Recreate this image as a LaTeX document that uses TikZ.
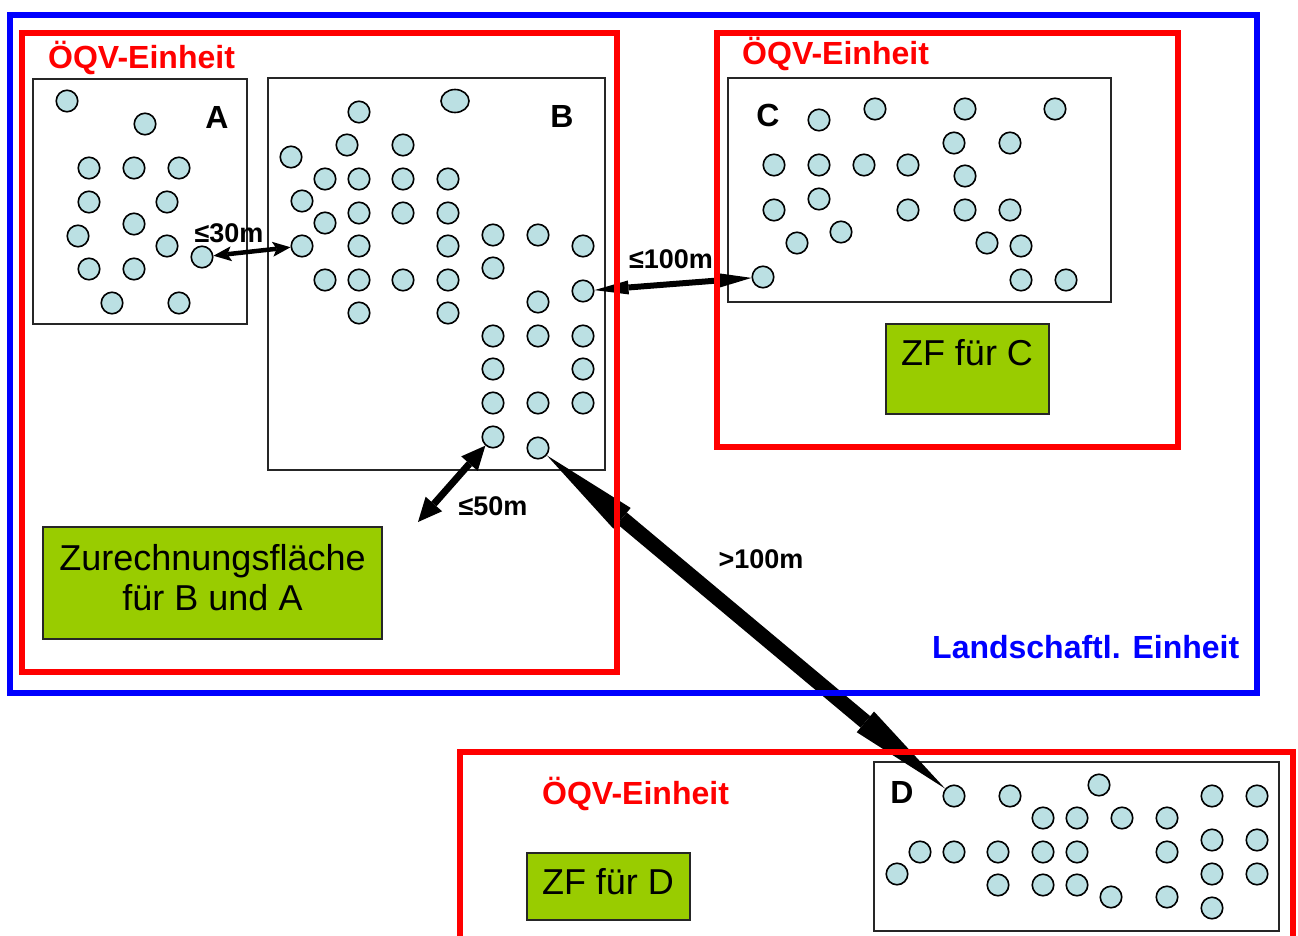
\documentclass[tikz,border=0pt]{standalone}
\usepackage{fontspec}
\setmainfont{Liberation Sans}
\usetikzlibrary{arrows.meta,shapes.geometric}
\definecolor{dotfill}{HTML}{BBE0E3}
\definecolor{zfgreen}{HTML}{99CC00}
\definecolor{ured}{RGB}{255,0,0}
\definecolor{ublue}{RGB}{0,0,255}
\tikzset{
  dot/.style={circle,draw=black,line width=1.6pt,fill=dotfill,minimum size=21.5pt,inner sep=0pt},
  blackbox/.style={draw=black!85,line width=1.6pt},
  redbox/.style={draw=ured,line width=6pt},
  bluebox/.style={draw=ublue,line width=6pt},
  greenbox/.style={draw=black!85,line width=1.6pt,fill=zfgreen,inner sep=0pt},
  unitlbl/.style={text=ured,font=\bfseries\fontsize{32}{38}\selectfont,inner sep=0pt,anchor=base west},
  letter/.style={font=\bfseries\fontsize{32}{38}\selectfont,inner sep=0pt,anchor=base},
  distlbl/.style={font=\bfseries\fontsize{27}{32}\selectfont,inner sep=0pt,anchor=base},
  zftext/.style={font=\fontsize{36}{40}\selectfont,inner sep=0pt},
  arrA/.style={line width=4.5pt,{Stealth[length=18pt,width=15pt,inset=4pt,line width=0pt]}-{Stealth[length=18pt,width=15pt,inset=4pt,line width=0pt]}},
  arrC/.style={line width=6pt,{Triangle[length=34pt,width=14pt,line width=0pt]}-{Triangle[length=34pt,width=15pt,line width=0pt]}},
  arrF/.style={line width=7pt,{Triangle[length=24pt,width=22pt,line width=0pt]}-{Triangle[length=24pt,width=22pt,line width=0pt]}},
  arrBig/.style={line width=15pt,{Triangle[length=98pt,width=27pt,line width=0pt]}-{Triangle[length=104pt,width=27pt,line width=0pt]}}
}
\begin{document}
\begin{tikzpicture}[x=1pt,y=-1pt]
\useasboundingbox (0,0) rectangle (1298,936);
\fill[white] (0,0) rectangle (1298,936);

% black area boxes
\draw[blackbox] (33,79) rectangle (247,324);
\draw[blackbox] (268,78) rectangle (605,470);
\draw[blackbox] (728,78) rectangle (1111,302);
\draw[blackbox] (874,762) rectangle (1279,931);

% named circles used by connectors
\node[dot] (a30) at (202,257) {};
\node[dot] (b30) at (302,246) {};
\node[dot] (b100) at (583,291) {};
\node[dot] (b50) at (493,437) {};
\node[dot] (bbig) at (538,448) {};
\node[dot] (c100) at (763,277) {};
\node[dot] (dbig) at (954,796) {};
\coordinate (f50) at (418,522);

% other circles
\foreach \x/\y [count=\i] in {67/101,145/124,89/168,134/168,179/168,89/202,167/202,78/236,134/224,167/246,89/269,134/269,112/303,179/303}
  \node[dot] (ca\i) at (\x,\y) {};
\foreach \x/\y [count=\i] in {359/112,291/157,347/145,403/145,325/179,359/179,403/179,448/179,302/201,325/223,359/213,403/213,448/213,359/246,448/246,493/235,538/235,583/246,325/280,359/280,403/280,448/280,493/268,538/302,359/313,448/313,493/336,538/336,583/336,493/369,583/369,493/403,538/403,583/403}
  \node[dot] (cb\i) at (\x,\y) {};
\node[dot,ellipse,minimum width=28pt,minimum height=23pt] (cbe) at (455,101) {};
\foreach \x/\y [count=\i] in {819/120,875/109,965/109,1055/109,954/143,1010/143,774/165,819/165,864/165,908/165,965/176,819/199,774/210,908/210,965/210,1010/210,841/232,797/243,987/243,1021/246,1021/280,1066/280}
  \node[dot] (cc\i) at (\x,\y) {};
\foreach \x/\y [count=\i] in {1010/796,1099/785,1212/796,1257/796,1043/818,1077/818,1122/818,1167/818,920/852,954/852,998/852,1043/852,1077/852,1167/852,1212/840,1257/840,897/874,1212/874,1257/874,998/885,1043/885,1077/885,1111/897,1167/897,1212/908}
  \node[dot] (cd\i) at (\x,\y) {};

% connectors
\draw[arrA] (a30) -- (b30);
\draw[arrC] (b100) -- (c100);
\draw[arrF] (f50) -- (b50);
\draw[arrBig] (bbig) -- (dbig);

% unit frames
\draw[bluebox] (10,15) rectangle (1257,693);
\draw[redbox] (22,33) rectangle (617,672);
\draw[redbox] (717,33) rectangle (1178,447);
\draw[redbox] (460,752) rectangle (1293,960);

% green areas
\node[greenbox,minimum width=339pt,minimum height=112pt] (zfab) at (212.5,583) {};
\node[zftext,align=center] (zfabtext) at (212.5,578) {Zurechnungsfläche\\für B und A};
\node[greenbox,minimum width=163pt,minimum height=90pt] (zfc) at (967.5,369) {};
\node[zftext,anchor=base] (zfctext) at (967,365) {ZF für C};
\node[greenbox,minimum width=163pt,minimum height=67pt] (zfd) at (608.5,886.5) {};
\node[zftext,anchor=base] (zfdtext) at (608,894) {ZF für D};

% labels
\node[unitlbl] (u1) at (48,69) {ÖQV-Einheit};
\node[unitlbl] (u2) at (742,65) {ÖQV-Einheit};
\node[unitlbl] (u3) at (542,804) {ÖQV-Einheit};
\node[unitlbl,text=ublue] (land) at (932,658) {Landschaftl. Einheit};
\node[letter] (la) at (217,129) {A};
\node[letter] (lb) at (562,128) {B};
\node[letter] (lc) at (768,127) {C};
\node[letter] (ld) at (902,803) {D};
\node[distlbl] (d30) at (229,242) {≤30m};
\node[distlbl] (d100) at (671,268) {≤100m};
\node[distlbl] (d50) at (493,515) {≤50m};
\node[distlbl] (dgt) at (761,568) {>100m};
\end{tikzpicture}
\end{document}
